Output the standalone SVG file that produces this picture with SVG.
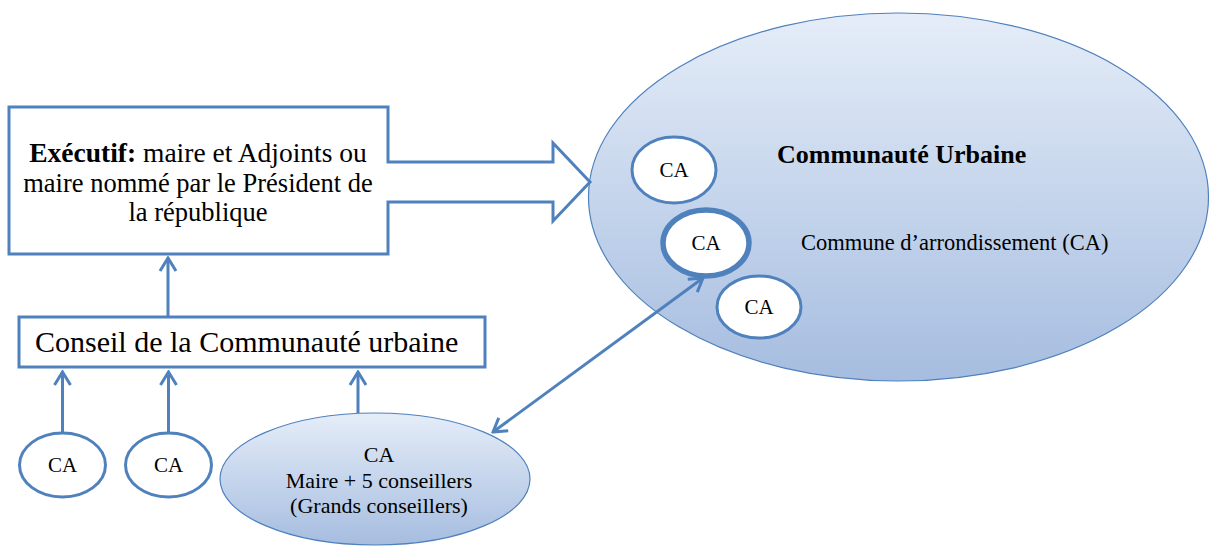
<svg xmlns="http://www.w3.org/2000/svg" width="1210" height="546" viewBox="0 0 1210 546">
<style>
.t{font-family:"Liberation Serif","Times New Roman",serif;fill:#000}
.box{fill:#fff;stroke:#4f81bd;stroke-width:3}
.ca{fill:#fff;stroke:#4f81bd;stroke-width:3}
.thick{stroke-width:5.5}
.big{fill:url(#g);stroke:#4f81bd;stroke-width:1.2}
.con{stroke:#4f81bd;stroke-width:3;fill:none}
</style>
<defs>
<linearGradient id="g" x1="0" y1="0" x2="0" y2="1">
<stop offset="0" stop-color="#e5edf8"/>
<stop offset="1" stop-color="#a6bde0"/>
</linearGradient>
<marker id="ah" viewBox="-16 -11 18 22" markerWidth="18" markerHeight="22" refX="0" refY="0" orient="auto-start-reverse" markerUnits="userSpaceOnUse">
<path d="M-13,-8 L0,0 L-13,8" fill="none" stroke="#4f81bd" stroke-width="3"/>
</marker>
</defs>
<rect width="1210" height="546" fill="#fff"/>

<g id="communaute-urbaine">
<ellipse class="big" cx="898.5" cy="197" rx="310" ry="184"/>
<text class="t" x="777" y="163" font-size="26" font-weight="bold">Communauté Urbaine</text>
<text class="t" x="801" y="250" font-size="22.5">Commune d’arrondissement (CA)</text>
</g>
<g id="cu-ca1">
<ellipse class="ca" cx="674" cy="170" rx="42" ry="33"/>
<text class="t" x="674" y="177" font-size="21" text-anchor="middle">CA</text>
</g>
<g id="cu-ca2">
<ellipse class="ca thick" cx="706" cy="243" rx="43" ry="33"/>
<text class="t" x="706" y="250" font-size="21" text-anchor="middle">CA</text>
</g>
<g id="cu-ca3">
<ellipse class="ca" cx="759" cy="307" rx="42" ry="31"/>
<text class="t" x="759" y="314" font-size="21" text-anchor="middle">CA</text>
</g>

<g id="executif">
<path class="box" d="M9,107 H388 V162 H553 V143 L590,182 L553,221 V202 H388 V254 H9 Z"/>
<text class="t" x="198" y="162" font-size="27.5" text-anchor="middle"><tspan font-weight="bold">Exécutif:</tspan> maire et Adjoints ou</text>
<text class="t" x="198" y="192" font-size="26.5" text-anchor="middle">maire nommé par le Président de</text>
<text class="t" x="198" y="221" font-size="26.5" text-anchor="middle">la république</text>
</g>

<g id="conseil">
<rect class="box" x="19" y="317" width="466" height="50"/>
<text class="t" x="35" y="352" font-size="30">Conseil de la Communauté urbaine</text>
</g>

<g id="ca-left">
<ellipse class="ca" cx="62.5" cy="465" rx="43" ry="32"/>
<text class="t" x="62.5" y="472" font-size="21" text-anchor="middle">CA</text>
</g>
<g id="ca-middle">
<ellipse class="ca" cx="168.5" cy="465" rx="43" ry="32"/>
<text class="t" x="168.5" y="472" font-size="21" text-anchor="middle">CA</text>
</g>
<g id="ca-grands">
<ellipse class="big" cx="375" cy="479" rx="155" ry="66"/>
<text class="t" x="379" y="462" font-size="22" text-anchor="middle">CA</text>
<text class="t" x="379" y="488" font-size="22" text-anchor="middle">Maire + 5 conseillers</text>
<text class="t" x="379" y="513" font-size="22" text-anchor="middle">(Grands conseillers)</text>
</g>

<g id="connectors">
<line class="con" x1="168" y1="317" x2="168" y2="258" marker-end="url(#ah)"/>
<line class="con" x1="62.5" y1="433" x2="62.5" y2="372" marker-end="url(#ah)"/>
<line class="con" x1="168.5" y1="433" x2="168.5" y2="372" marker-end="url(#ah)"/>
<line class="con" x1="358" y1="413" x2="358" y2="372" marker-end="url(#ah)"/>
<line class="con" x1="493" y1="432" x2="703" y2="278" marker-start="url(#ah)" marker-end="url(#ah)"/>
</g>
</svg>
